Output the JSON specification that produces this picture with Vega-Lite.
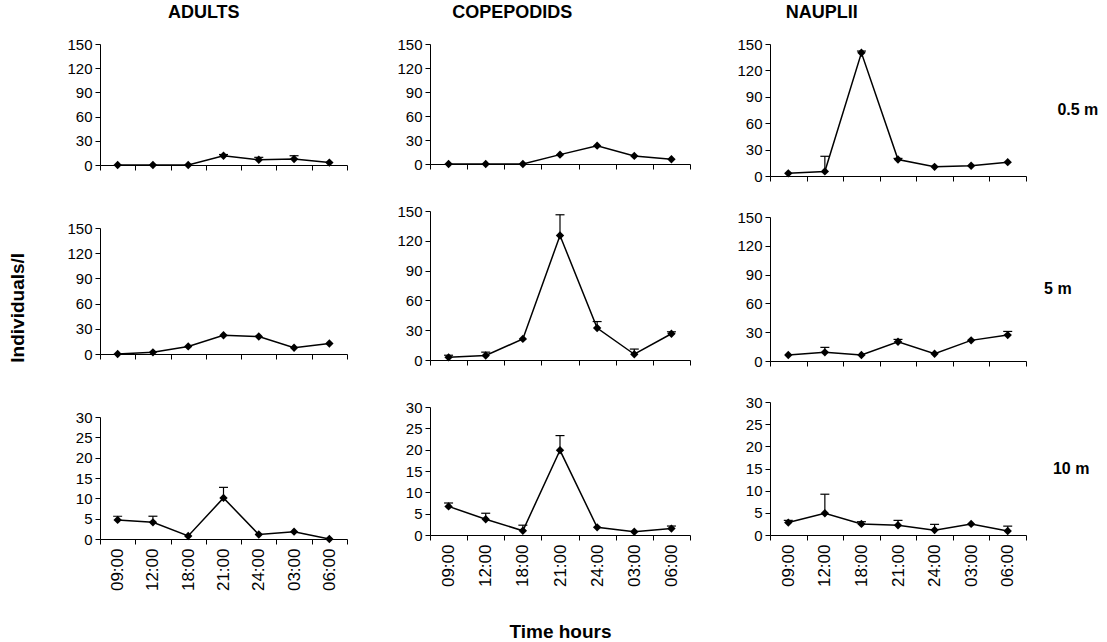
{
  "$schema": "https://vega.github.io/schema/vega-lite/v6.json",
  "padding": {"left": 9, "top": 4, "right": 0, "bottom": 0},
  "background": "white",
  "datasets": {
    "d": [
      {"g":"ADULTS","d":"0.5","t":"09:00","v":0},
      {"g":"ADULTS","d":"0.5","t":"12:00","v":0},
      {"g":"ADULTS","d":"0.5","t":"18:00","v":0},
      {"g":"ADULTS","d":"0.5","t":"21:00","v":11.5,"hi":13},
      {"g":"ADULTS","d":"0.5","t":"24:00","v":6.5,"hi":9.5},
      {"g":"ADULTS","d":"0.5","t":"03:00","v":7.5,"hi":11.5},
      {"g":"ADULTS","d":"0.5","t":"06:00","v":3},
      {"g":"COPEPODIDS","d":"0.5","t":"09:00","v":0},
      {"g":"COPEPODIDS","d":"0.5","t":"12:00","v":0},
      {"g":"COPEPODIDS","d":"0.5","t":"18:00","v":0},
      {"g":"COPEPODIDS","d":"0.5","t":"21:00","v":11.7},
      {"g":"COPEPODIDS","d":"0.5","t":"24:00","v":22.9},
      {"g":"COPEPODIDS","d":"0.5","t":"03:00","v":10.1},
      {"g":"COPEPODIDS","d":"0.5","t":"06:00","v":6},
      {"g":"NAUPLII","d":"0.5","t":"09:00","v":3},
      {"g":"NAUPLII","d":"0.5","t":"12:00","v":5.2,"hi":22.4},
      {"g":"NAUPLII","d":"0.5","t":"18:00","v":140,"hi":142},
      {"g":"NAUPLII","d":"0.5","t":"21:00","v":18.7,"hi":20},
      {"g":"NAUPLII","d":"0.5","t":"24:00","v":10.4},
      {"g":"NAUPLII","d":"0.5","t":"03:00","v":11.6},
      {"g":"NAUPLII","d":"0.5","t":"06:00","v":15.7},
      {"g":"ADULTS","d":"5","t":"09:00","v":0},
      {"g":"ADULTS","d":"5","t":"12:00","v":2},
      {"g":"ADULTS","d":"5","t":"18:00","v":9},
      {"g":"ADULTS","d":"5","t":"21:00","v":22.3},
      {"g":"ADULTS","d":"5","t":"24:00","v":20.8},
      {"g":"ADULTS","d":"5","t":"03:00","v":7.4},
      {"g":"ADULTS","d":"5","t":"06:00","v":12.5},
      {"g":"COPEPODIDS","d":"5","t":"09:00","v":2.7,"hi":4.8},
      {"g":"COPEPODIDS","d":"5","t":"12:00","v":4.5,"hi":7.9},
      {"g":"COPEPODIDS","d":"5","t":"18:00","v":21.2},
      {"g":"COPEPODIDS","d":"5","t":"21:00","v":125.3,"hi":146.2},
      {"g":"COPEPODIDS","d":"5","t":"24:00","v":32.2,"hi":38.7},
      {"g":"COPEPODIDS","d":"5","t":"03:00","v":5.8,"hi":11},
      {"g":"COPEPODIDS","d":"5","t":"06:00","v":26.4,"hi":28.4},
      {"g":"NAUPLII","d":"5","t":"09:00","v":6.2},
      {"g":"NAUPLII","d":"5","t":"12:00","v":9,"hi":14.2},
      {"g":"NAUPLII","d":"5","t":"18:00","v":6.2},
      {"g":"NAUPLII","d":"5","t":"21:00","v":20.1,"hi":22.5},
      {"g":"NAUPLII","d":"5","t":"24:00","v":7.6},
      {"g":"NAUPLII","d":"5","t":"03:00","v":21.5},
      {"g":"NAUPLII","d":"5","t":"06:00","v":27,"hi":30.8},
      {"g":"ADULTS","d":"10","t":"09:00","v":4.7,"hi":5.6},
      {"g":"ADULTS","d":"10","t":"12:00","v":4.1,"hi":5.6},
      {"g":"ADULTS","d":"10","t":"18:00","v":0.75},
      {"g":"ADULTS","d":"10","t":"21:00","v":10.1,"hi":12.7},
      {"g":"ADULTS","d":"10","t":"24:00","v":1.1},
      {"g":"ADULTS","d":"10","t":"03:00","v":1.8},
      {"g":"ADULTS","d":"10","t":"06:00","v":0},
      {"g":"COPEPODIDS","d":"10","t":"09:00","v":6.7,"hi":7.5},
      {"g":"COPEPODIDS","d":"10","t":"12:00","v":3.7,"hi":5.1},
      {"g":"COPEPODIDS","d":"10","t":"18:00","v":1.0,"hi":2.3},
      {"g":"COPEPODIDS","d":"10","t":"21:00","v":19.85,"hi":23.3},
      {"g":"COPEPODIDS","d":"10","t":"24:00","v":1.8},
      {"g":"COPEPODIDS","d":"10","t":"03:00","v":0.76},
      {"g":"COPEPODIDS","d":"10","t":"06:00","v":1.5,"hi":2.1},
      {"g":"NAUPLII","d":"10","t":"09:00","v":2.8,"hi":3.3},
      {"g":"NAUPLII","d":"10","t":"12:00","v":4.9,"hi":9.2},
      {"g":"NAUPLII","d":"10","t":"18:00","v":2.5,"hi":3.0},
      {"g":"NAUPLII","d":"10","t":"21:00","v":2.2,"hi":3.3},
      {"g":"NAUPLII","d":"10","t":"24:00","v":1.1,"hi":2.4},
      {"g":"NAUPLII","d":"10","t":"03:00","v":2.5},
      {"g":"NAUPLII","d":"10","t":"06:00","v":0.9,"hi":2.0}
    ]
  },
  "data": {"name": "d"},
  "title": {"text": "Individuals/l", "orient": "left", "fontSize": 19, "fontWeight": "bold", "offset": 32, "anchor": "middle", "dx": 15},
  "spacing": 10,
  "hconcat": [
    {
      "title": {"text": "ADULTS", "fontSize": 18, "fontWeight": "bold", "offset": 15, "anchor": "middle"},
      "spacing": 48,
      "vconcat": [
        {
          "width": 247, "height": 121,
          "transform": [{"filter": "datum.g == 'ADULTS' && datum.d == '0.5'"}],
          "encoding": {
            "x": {"field": "t", "type": "nominal", "sort": ["09:00","12:00","18:00","21:00","24:00","03:00","06:00"], "scale": {"type": "band", "paddingInner": 0, "paddingOuter": 0}, "axis": {"labels": false, "title": null, "tickBand": "extent"}},
            "y": {"field": "v", "type": "quantitative", "scale": {"domain": [0, 150], "nice": false}, "axis": {"values": [0,30,60,90,120,150], "title": null, "minExtent": 40, "maxExtent": 40}}
          },
          "layer": [
            {"transform": [{"filter": {"field": "hi", "valid": true}}], "mark": {"type": "rule", "color": "black", "strokeWidth": 1.2}, "encoding": {"y2": {"field": "hi"}}},
            {"transform": [{"filter": {"field": "hi", "valid": true}}], "mark": {"type": "tick", "orient": "horizontal", "size": 9, "thickness": 1.2, "color": "black", "opacity": 1}, "encoding": {"y": {"field": "hi", "type": "quantitative", "title": null}}},
            {"mark": {"type": "line", "color": "black", "strokeWidth": 1.5}},
            {"mark": {"type": "point", "shape": "diamond", "filled": true, "size": 70, "color": "black", "opacity": 1}}
          ]
        },
        {
          "width": 247, "height": 126,
          "transform": [{"filter": "datum.g == 'ADULTS' && datum.d == '5'"}],
          "encoding": {
            "x": {"field": "t", "type": "nominal", "sort": ["09:00","12:00","18:00","21:00","24:00","03:00","06:00"], "scale": {"type": "band", "paddingInner": 0, "paddingOuter": 0}, "axis": {"labels": false, "title": null, "tickBand": "extent"}},
            "y": {"field": "v", "type": "quantitative", "scale": {"domain": [0, 150], "nice": false}, "axis": {"values": [0,30,60,90,120,150], "title": null, "minExtent": 40, "maxExtent": 40}}
          },
          "layer": [
            {"transform": [{"filter": {"field": "hi", "valid": true}}], "mark": {"type": "rule", "color": "black", "strokeWidth": 1.2}, "encoding": {"y2": {"field": "hi"}}},
            {"transform": [{"filter": {"field": "hi", "valid": true}}], "mark": {"type": "tick", "orient": "horizontal", "size": 9, "thickness": 1.2, "color": "black", "opacity": 1}, "encoding": {"y": {"field": "hi", "type": "quantitative", "title": null}}},
            {"mark": {"type": "line", "color": "black", "strokeWidth": 1.5}},
            {"mark": {"type": "point", "shape": "diamond", "filled": true, "size": 70, "color": "black", "opacity": 1}}
          ]
        },
        {
          "width": 247, "height": 122,
          "transform": [{"filter": "datum.g == 'ADULTS' && datum.d == '10'"}],
          "encoding": {
            "x": {"field": "t", "type": "nominal", "sort": ["09:00","12:00","18:00","21:00","24:00","03:00","06:00"], "scale": {"type": "band", "paddingInner": 0, "paddingOuter": 0}, "axis": {"labelAngle": -90, "labelFontSize": 17, "labelPadding": 4, "title": null, "tickBand": "extent"}},
            "y": {"field": "v", "type": "quantitative", "scale": {"domain": [0, 30], "nice": false}, "axis": {"values": [0,5,10,15,20,25,30], "title": null, "minExtent": 40, "maxExtent": 40}}
          },
          "layer": [
            {"transform": [{"filter": {"field": "hi", "valid": true}}], "mark": {"type": "rule", "color": "black", "strokeWidth": 1.2}, "encoding": {"y2": {"field": "hi"}}},
            {"transform": [{"filter": {"field": "hi", "valid": true}}], "mark": {"type": "tick", "orient": "horizontal", "size": 9, "thickness": 1.2, "color": "black", "opacity": 1}, "encoding": {"y": {"field": "hi", "type": "quantitative", "title": null}}},
            {"mark": {"type": "line", "color": "black", "strokeWidth": 1.5}},
            {"mark": {"type": "point", "shape": "diamond", "filled": true, "size": 70, "color": "black", "opacity": 1}}
          ]
        }
      ]
    },
    {
      "title": {"text": "COPEPODIDS", "fontSize": 18, "fontWeight": "bold", "offset": 15, "anchor": "middle", "dx": -12},
      "spacing": 32,
      "vconcat": [
        {
          "width": 260, "height": 120,
          "transform": [{"filter": "datum.g == 'COPEPODIDS' && datum.d == '0.5'"}],
          "encoding": {
            "x": {"field": "t", "type": "nominal", "sort": ["09:00","12:00","18:00","21:00","24:00","03:00","06:00"], "scale": {"type": "band", "paddingInner": 0, "paddingOuter": 0}, "axis": {"labels": false, "title": null, "tickBand": "extent"}},
            "y": {"field": "v", "type": "quantitative", "scale": {"domain": [0, 150], "nice": false}, "axis": {"values": [0,30,60,90,120,150], "title": null, "minExtent": 72, "maxExtent": 72}}
          },
          "layer": [
            {"transform": [{"filter": {"field": "hi", "valid": true}}], "mark": {"type": "rule", "color": "black", "strokeWidth": 1.2}, "encoding": {"y2": {"field": "hi"}}},
            {"transform": [{"filter": {"field": "hi", "valid": true}}], "mark": {"type": "tick", "orient": "horizontal", "size": 9, "thickness": 1.2, "color": "black", "opacity": 1}, "encoding": {"y": {"field": "hi", "type": "quantitative", "title": null}}},
            {"mark": {"type": "line", "color": "black", "strokeWidth": 1.5}},
            {"mark": {"type": "point", "shape": "diamond", "filled": true, "size": 70, "color": "black", "opacity": 1}}
          ]
        },
        {
          "width": 260, "height": 149,
          "transform": [{"filter": "datum.g == 'COPEPODIDS' && datum.d == '5'"}],
          "encoding": {
            "x": {"field": "t", "type": "nominal", "sort": ["09:00","12:00","18:00","21:00","24:00","03:00","06:00"], "scale": {"type": "band", "paddingInner": 0, "paddingOuter": 0}, "axis": {"labels": false, "title": null, "tickBand": "extent"}},
            "y": {"field": "v", "type": "quantitative", "scale": {"domain": [0, 150], "nice": false}, "axis": {"values": [0,30,60,90,120,150], "title": null, "minExtent": 72, "maxExtent": 72}}
          },
          "layer": [
            {"transform": [{"filter": {"field": "hi", "valid": true}}], "mark": {"type": "rule", "color": "black", "strokeWidth": 1.2}, "encoding": {"y2": {"field": "hi"}}},
            {"transform": [{"filter": {"field": "hi", "valid": true}}], "mark": {"type": "tick", "orient": "horizontal", "size": 9, "thickness": 1.2, "color": "black", "opacity": 1}, "encoding": {"y": {"field": "hi", "type": "quantitative", "title": null}}},
            {"mark": {"type": "line", "color": "black", "strokeWidth": 1.5}},
            {"mark": {"type": "point", "shape": "diamond", "filled": true, "size": 70, "color": "black", "opacity": 1}}
          ]
        },
        {
          "width": 260, "height": 128,
          "transform": [{"filter": "datum.g == 'COPEPODIDS' && datum.d == '10'"}],
          "encoding": {
            "x": {"field": "t", "type": "nominal", "sort": ["09:00","12:00","18:00","21:00","24:00","03:00","06:00"], "scale": {"type": "band", "paddingInner": 0, "paddingOuter": 0}, "axis": {"labelAngle": -90, "labelFontSize": 17, "labelPadding": 4, "title": "Time hours", "titleFontSize": 19, "titleFontWeight": "bold", "titlePadding": 36, "tickBand": "extent"}},
            "y": {"field": "v", "type": "quantitative", "scale": {"domain": [0, 30], "nice": false}, "axis": {"values": [0,5,10,15,20,25,30], "title": null, "minExtent": 72, "maxExtent": 72}}
          },
          "layer": [
            {"transform": [{"filter": {"field": "hi", "valid": true}}], "mark": {"type": "rule", "color": "black", "strokeWidth": 1.2}, "encoding": {"y2": {"field": "hi"}}},
            {"transform": [{"filter": {"field": "hi", "valid": true}}], "mark": {"type": "tick", "orient": "horizontal", "size": 9, "thickness": 1.2, "color": "black", "opacity": 1}, "encoding": {"y": {"field": "hi", "type": "quantitative", "title": null}}},
            {"mark": {"type": "line", "color": "black", "strokeWidth": 1.5}},
            {"mark": {"type": "point", "shape": "diamond", "filled": true, "size": 70, "color": "black", "opacity": 1}}
          ]
        }
      ]
    },
    {
      "title": {"text": "NAUPLII", "fontSize": 18, "fontWeight": "bold", "offset": 15, "anchor": "middle", "dx": -78},
      "spacing": 26,
      "vconcat": [
        {
          "width": 256, "height": 132,
          "title": {"text": "0.5 m", "orient": "right", "angle": 0, "align": "left", "baseline": "middle", "anchor": "middle", "fontSize": 16, "fontWeight": "bold", "offset": -10},
          "transform": [{"filter": "datum.g == 'NAUPLII' && datum.d == '0.5'"}],
          "encoding": {
            "x": {"field": "t", "type": "nominal", "sort": ["09:00","12:00","18:00","21:00","24:00","03:00","06:00"], "scale": {"type": "band", "paddingInner": 0, "paddingOuter": 0}, "axis": {"labels": false, "title": null, "tickBand": "extent"}},
            "y": {"field": "v", "type": "quantitative", "scale": {"domain": [0, 150], "nice": false}, "axis": {"values": [0,30,60,90,120,150], "title": null, "minExtent": 69, "maxExtent": 69}}
          },
          "layer": [
            {"transform": [{"filter": {"field": "hi", "valid": true}}], "mark": {"type": "rule", "color": "black", "strokeWidth": 1.2}, "encoding": {"y2": {"field": "hi"}}},
            {"transform": [{"filter": {"field": "hi", "valid": true}}], "mark": {"type": "tick", "orient": "horizontal", "size": 9, "thickness": 1.2, "color": "black", "opacity": 1}, "encoding": {"y": {"field": "hi", "type": "quantitative", "title": null}}},
            {"mark": {"type": "line", "color": "black", "strokeWidth": 1.5}},
            {"mark": {"type": "point", "shape": "diamond", "filled": true, "size": 70, "color": "black", "opacity": 1}}
          ]
        },
        {
          "width": 256, "height": 144,
          "title": {"text": "5 m", "orient": "right", "angle": 0, "align": "left", "baseline": "middle", "anchor": "middle", "fontSize": 16, "fontWeight": "bold", "offset": -10},
          "transform": [{"filter": "datum.g == 'NAUPLII' && datum.d == '5'"}],
          "encoding": {
            "x": {"field": "t", "type": "nominal", "sort": ["09:00","12:00","18:00","21:00","24:00","03:00","06:00"], "scale": {"type": "band", "paddingInner": 0, "paddingOuter": 0}, "axis": {"labels": false, "title": null, "tickBand": "extent"}},
            "y": {"field": "v", "type": "quantitative", "scale": {"domain": [0, 150], "nice": false}, "axis": {"values": [0,30,60,90,120,150], "title": null, "minExtent": 69, "maxExtent": 69}}
          },
          "layer": [
            {"transform": [{"filter": {"field": "hi", "valid": true}}], "mark": {"type": "rule", "color": "black", "strokeWidth": 1.2}, "encoding": {"y2": {"field": "hi"}}},
            {"transform": [{"filter": {"field": "hi", "valid": true}}], "mark": {"type": "tick", "orient": "horizontal", "size": 9, "thickness": 1.2, "color": "black", "opacity": 1}, "encoding": {"y": {"field": "hi", "type": "quantitative", "title": null}}},
            {"mark": {"type": "line", "color": "black", "strokeWidth": 1.5}},
            {"mark": {"type": "point", "shape": "diamond", "filled": true, "size": 70, "color": "black", "opacity": 1}}
          ]
        },
        {
          "width": 256, "height": 133,
          "title": {"text": "10 m", "orient": "right", "angle": 0, "align": "left", "baseline": "middle", "anchor": "middle", "fontSize": 16, "fontWeight": "bold", "offset": -10},
          "transform": [{"filter": "datum.g == 'NAUPLII' && datum.d == '10'"}],
          "encoding": {
            "x": {"field": "t", "type": "nominal", "sort": ["09:00","12:00","18:00","21:00","24:00","03:00","06:00"], "scale": {"type": "band", "paddingInner": 0, "paddingOuter": 0}, "axis": {"labelAngle": -90, "labelFontSize": 17, "labelPadding": 4, "title": null, "tickBand": "extent"}},
            "y": {"field": "v", "type": "quantitative", "scale": {"domain": [0, 30], "nice": false}, "axis": {"values": [0,5,10,15,20,25,30], "title": null, "minExtent": 69, "maxExtent": 69}}
          },
          "layer": [
            {"transform": [{"filter": {"field": "hi", "valid": true}}], "mark": {"type": "rule", "color": "black", "strokeWidth": 1.2}, "encoding": {"y2": {"field": "hi"}}},
            {"transform": [{"filter": {"field": "hi", "valid": true}}], "mark": {"type": "tick", "orient": "horizontal", "size": 9, "thickness": 1.2, "color": "black", "opacity": 1}, "encoding": {"y": {"field": "hi", "type": "quantitative", "title": null}}},
            {"mark": {"type": "line", "color": "black", "strokeWidth": 1.5}},
            {"mark": {"type": "point", "shape": "diamond", "filled": true, "size": 70, "color": "black", "opacity": 1}}
          ]
        }
      ]
    }
  ],
  "config": {
    "view": {"stroke": null},
    "font": "Liberation Sans",
    "axis": {"domainColor": "black", "tickColor": "black", "labelColor": "black", "titleColor": "black", "labelFont": "Liberation Sans", "titleFont": "Liberation Sans", "grid": false, "tickSize": 5, "domainWidth": 1, "tickWidth": 1, "labelFontSize": 15, "labelPadding": 3},
    "title": {"font": "Liberation Sans", "color": "black"}
  }
}
